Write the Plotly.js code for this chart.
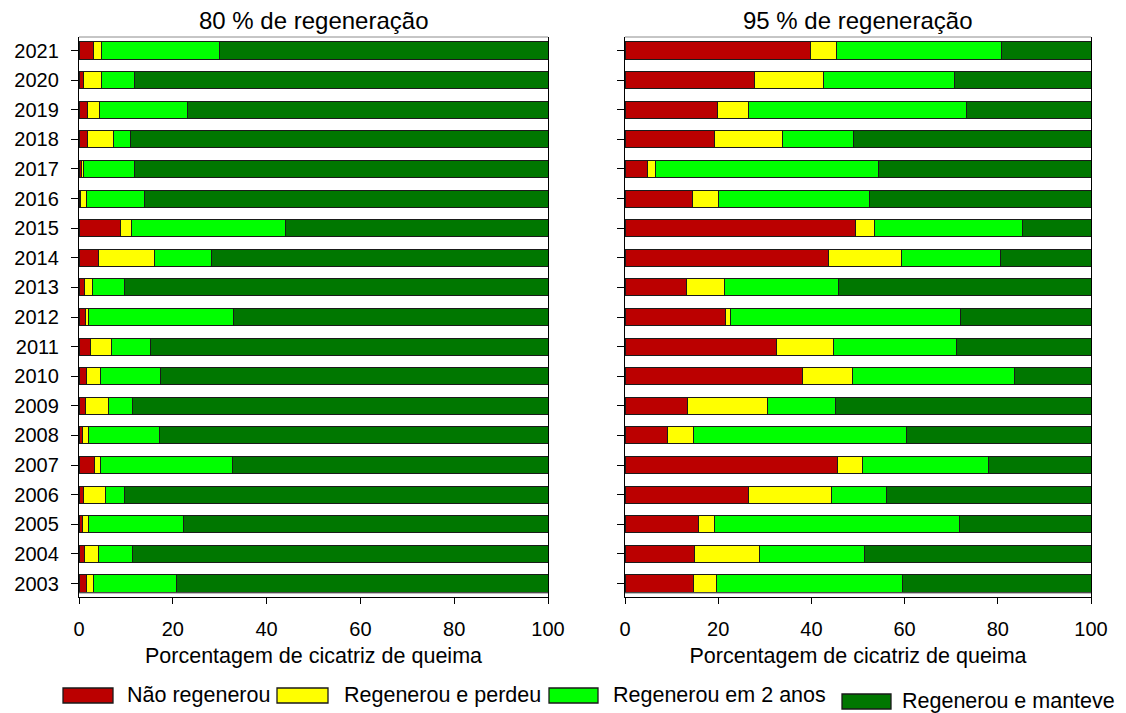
<!DOCTYPE html>
<html>
<head>
<meta charset="utf-8">
<script src="https://cdn.plot.ly/plotly-3.0.1.min.js"></script>
<style>
  html, body { margin: 0; padding: 0; background: #ffffff; }
  #chart { width: 1126px; height: 713px; }
</style>
</head>
<body>
<div id="chart"></div>
<script>
// ---- Data ----
const years = ["2003","2004","2005","2006","2007","2008","2009","2010","2011","2012",
               "2013","2014","2015","2016","2017","2018","2019","2020","2021"];

const seriesNames = ["Não regenerou", "Regenerou e perdeu", "Regenerou em 2 anos", "Regenerou e manteve"];
const panelTitles = ["80 % de regeneração", "95 % de regeneração"];
const xAxisTitle = "Porcentagem de cicatriz de queima";
const xTickVals = [0, 20, 40, 60, 80, 100];

// 80 % de regeneração
const naoRegenerou80      = [1.6, 1.1, 0.8, 1.0, 3.2, 0.8, 1.4, 1.6, 2.5, 1.4, 1.1, 4.2, 8.9, 0.3, 0.5, 1.8, 1.8, 0.9, 3.1];
const regenerouPerdeu80   = [1.5, 3.1, 1.3, 4.7, 1.4, 1.3, 4.8, 2.9, 4.4, 0.7, 1.8, 11.8, 2.3, 1.2, 0.5, 5.5, 2.5, 3.8, 1.7];
const regenerou2Anos80    = [17.7, 7.2, 20.2, 4.1, 28.1, 15.0, 5.2, 12.8, 8.3, 30.9, 6.7, 12.3, 32.8, 12.4, 10.8, 3.7, 18.8, 7.2, 25.1];
const regenerouManteve80  = [79.2, 88.6, 77.7, 90.2, 67.3, 82.9, 88.6, 82.7, 84.8, 67.0, 90.4, 71.7, 56.0, 86.1, 88.2, 89.0, 76.9, 88.1, 70.1];

// 95 % de regeneração
const naoRegenerou95      = [14.6, 15.0, 15.7, 26.5, 45.5, 9.2, 13.5, 38.0, 32.5, 21.6, 13.2, 43.7, 49.5, 14.4, 4.9, 19.3, 19.8, 27.8, 39.9];
const regenerouPerdeu95   = [5.1, 13.9, 3.6, 17.8, 5.4, 5.4, 17.0, 10.9, 12.3, 1.1, 8.2, 15.7, 4.1, 5.6, 1.7, 14.5, 6.7, 14.9, 5.4];
const regenerou2Anos95    = [39.9, 22.6, 52.4, 11.9, 27.2, 45.9, 14.6, 34.6, 26.3, 49.3, 24.5, 21.1, 31.8, 32.5, 47.8, 15.3, 46.7, 28.1, 35.5];
const regenerouManteve95  = [40.4, 48.5, 28.3, 43.8, 21.9, 39.5, 54.9, 16.5, 28.9, 28.0, 54.1, 19.5, 14.6, 47.5, 45.6, 50.9, 26.8, 29.2, 19.2];

// ---- Styling ----
const colors = ["#BB0000", "#FFFF00", "#00FF00", "#007700"];
const FONT = "Liberation Sans, Arial, Helvetica, sans-serif";
const W = 1126, H = 713;
const px = v => v / W;          // horizontal pixel -> paper
const py = v => 1 - v / H;      // vertical pixel -> paper

const panels = [
  { data: [naoRegenerou80, regenerouPerdeu80, regenerou2Anos80, regenerouManteve80], xa: "x", ya: "y" },
  { data: [naoRegenerou95, regenerouPerdeu95, regenerou2Anos95, regenerouManteve95], xa: "x2", ya: "y2" }
];

const traces = [];
panels.forEach(p => {
  p.data.forEach((vals, i) => {
    traces.push({
      type: "bar",
      orientation: "h",
      name: seriesNames[i],
      x: vals,
      y: years,
      xaxis: p.xa,
      yaxis: p.ya,
      width: 0.575,
      marker: { color: colors[i], line: { color: "#1a1a1a", width: 1 } },
      showlegend: false,
      hovertemplate: "%{y}: %{x}<extra>" + seriesNames[i] + "</extra>"
    });
  });
});

const yDomain = [py(597), py(37)];
const yRange = [-0.456, 18.456];

function xAxis(domain, anchor) {
  return {
    domain: domain, anchor: anchor, range: [0, 100], tickvals: xTickVals,
    showline: true, linecolor: "#000", linewidth: 1.3, mirror: false,
    ticks: "outside", ticklen: 6, tickwidth: 1.3, tickcolor: "#000",
    showgrid: false, zeroline: false, fixedrange: true,
    tickfont: { family: FONT, size: 20, color: "#000" },
    ticklabelstandoff: 8,
    title: { text: xAxisTitle, font: { family: FONT, size: 21.5, color: "#000" }, standoff: 8 }
  };
}
function yAxis(domain, anchor, showLabels) {
  return {
    domain: domain, anchor: anchor, type: "category", range: yRange,
    showline: true, linecolor: "#000", linewidth: 1.3, mirror: true,
    ticks: "outside", ticklen: 7, tickwidth: 1.3, tickcolor: "#000",
    showticklabels: showLabels, showgrid: false, zeroline: false, fixedrange: true,
    tickfont: { family: FONT, size: 20, color: "#000" },
    ticklabelstandoff: 8
  };
}

const xd1 = [px(79), px(548)];
const xd2 = [px(625), px(1091)];

const shapes = [];
const annotations = [];

// faint frame lines at the top and just above the bottom of each panel
[["x", "y"], ["x2", "y2"]].forEach(([xa, ya]) => {
  shapes.push({ type: "line", xref: xa + " domain", yref: ya + " domain", x0: 0, x1: 1, y0: 1, y1: 1,
                line: { color: "#8c8c8c", width: 1 } });
  shapes.push({ type: "line", xref: xa + " domain", yref: ya + " domain", x0: 0, x1: 1, y0: 0.007, y1: 0.007,
                line: { color: "#8c8c8c", width: 1 } });
});

// panel titles
[[xd1, panelTitles[0]], [xd2, panelTitles[1]]].forEach(([d, t]) => {
  annotations.push({ xref: "paper", yref: "paper", x: (d[0] + d[1]) / 2, y: py(20),
    xanchor: "center", yanchor: "middle", showarrow: false, text: t,
    font: { family: FONT, size: 24, color: "#000" } });
});

// custom legend (large swatches like the reference)
const legendItems = [
  { box: [63, 113], yBox: [688, 703], tx: 125, ty: 695 },
  { box: [277, 328], yBox: [688, 703], tx: 342, ty: 695 },
  { box: [549, 598], yBox: [688, 703], tx: 611, ty: 695 },
  { box: [842, 891], yBox: [694, 709], tx: 900, ty: 701 }
];
legendItems.forEach((it, i) => {
  shapes.push({ type: "rect", xref: "paper", yref: "paper",
    x0: px(it.box[0]), x1: px(it.box[1]), y0: py(it.yBox[1]), y1: py(it.yBox[0]),
    fillcolor: colors[i], line: { color: "#1a1a1a", width: 1.3 } });
  annotations.push({ xref: "paper", yref: "paper", x: px(it.tx), y: py(it.ty),
    xanchor: "left", yanchor: "middle", showarrow: false, text: seriesNames[i],
    font: { family: FONT, size: 21.5, color: "#000" } });
});

const layout = {
  width: W, height: H,
  margin: { l: 0, r: 0, t: 0, b: 0, pad: 0 },
  paper_bgcolor: "#ffffff", plot_bgcolor: "#ffffff",
  barmode: "stack", bargap: 0.4,
  showlegend: false,
  font: { family: FONT, color: "#000" },
  xaxis: xAxis(xd1, "y"),
  yaxis: yAxis(yDomain, "x", true),
  xaxis2: xAxis(xd2, "y2"),
  yaxis2: yAxis(yDomain, "x2", false),
  shapes: shapes,
  annotations: annotations
};

Plotly.newPlot("chart", traces, layout, { displayModeBar: false, staticPlot: false });
</script>
</body>
</html>
